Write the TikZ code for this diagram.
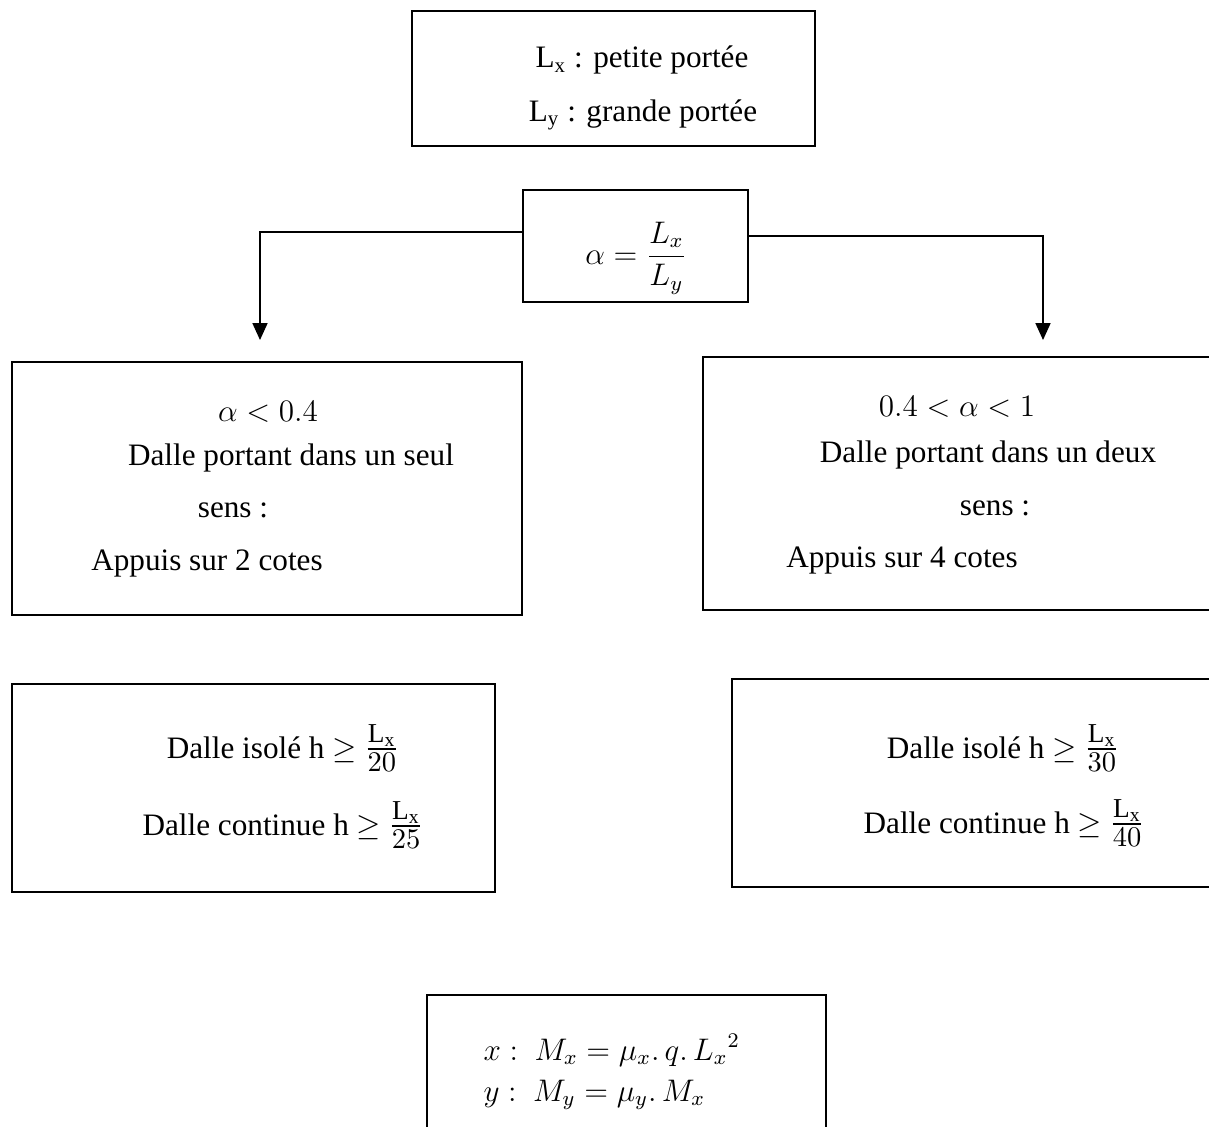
\documentclass[tikz,border=0pt]{standalone}
\usepackage{amsmath}
\usepackage{fontspec}
\setmainfont{Liberation Serif}
\usetikzlibrary{arrows.meta,fit}

\newcommand{\hfrac}[1]{{\fontsize{15pt}{18pt}\selectfont$\frac{\mathrm{L_x}}{#1}$}}

\begin{document}
\begin{tikzpicture}[
  x=0.3846pt, y=-0.3846pt,
  font=\fontsize{12pt}{14pt}\selectfont,
  box/.style={draw, line width=0.9pt, inner sep=0pt},
  txt/.style={inner sep=0pt, align=center},
  arr/.style={-{Triangle[length=6.5pt,width=5.8pt]}, line width=0.5pt}
]
\useasboundingbox[fill=white] (0,0) rectangle (1209,1127);

% spans
\node[box, fit={(412,11) (815,146)}] (defs) {};
\node[txt] (lx) at (642,60) {L\textsubscript{x} : petite portée};
\node[txt] (ly) at (643,115) {L\textsubscript{y} : grande portée};

% ratio
\node[box, fit={(523,190) (748,302)}] (alpha) {};
\node[txt] (ratio) at (636,258) {$\alpha = \dfrac{L_x}{L_y}$};

\coordinate (endL) at (260,340);
\coordinate (endR) at (1043,340);
\draw[arr] ([yshift=5.4pt]alpha.west) -| (endL);
\draw[arr] ([yshift=3.8pt]alpha.east) -| (endR);

% one-way slab
\node[box, fit={(12,362) (522,615)}] (oneway) {};
\node[txt] (cond1) at (268,412) {$\alpha < 0.4$};
\node[txt] (desc1) at (291,458) {Dalle portant dans un seul};
\node[txt] (sens1) at (233,510) {sens :};
\node[txt] (supp1) at (207,563) {Appuis sur 2 cotes};

% two-way slab
\node[box, fit={(703,357) (1230,610)}] (twoway) {};
\node[txt] (cond2) at (957,407) {$0.4 < \alpha < 1$};
\node[txt] (desc2) at (988,455) {Dalle portant dans un deux};
\node[txt] (sens2) at (995,508) {sens :};
\node[txt] (supp2) at (902,560) {Appuis sur 4 cotes};

% thickness
\node[box, fit={(12,684) (495,892)}] (thick1) {};
\node[txt] (iso1) at (283,748) {Dalle isolé h $\geq$ \hfrac{20}};
\node[txt] (cont1) at (283,825) {Dalle continue h $\geq$ \hfrac{25}};

\node[box, fit={(732,679) (1230,887)}] (thick2) {};
\node[txt] (iso2) at (1003,748) {Dalle isolé h $\geq$ \hfrac{30}};
\node[txt] (cont2) at (1004,823) {Dalle continue h $\geq$ \hfrac{40}};

% moments
\node[box, fit={(427,995) (826,1150)}] (moments) {};
\node[txt, anchor=west] (momx) at (483,1050) {$x :\ M_x = \mu_x.\,q.\,{L_x}^2$};
\node[txt, anchor=west] (momy) at (483,1095) {$y :\ M_y = \mu_y.\,M_x$};
\end{tikzpicture}
\end{document}
